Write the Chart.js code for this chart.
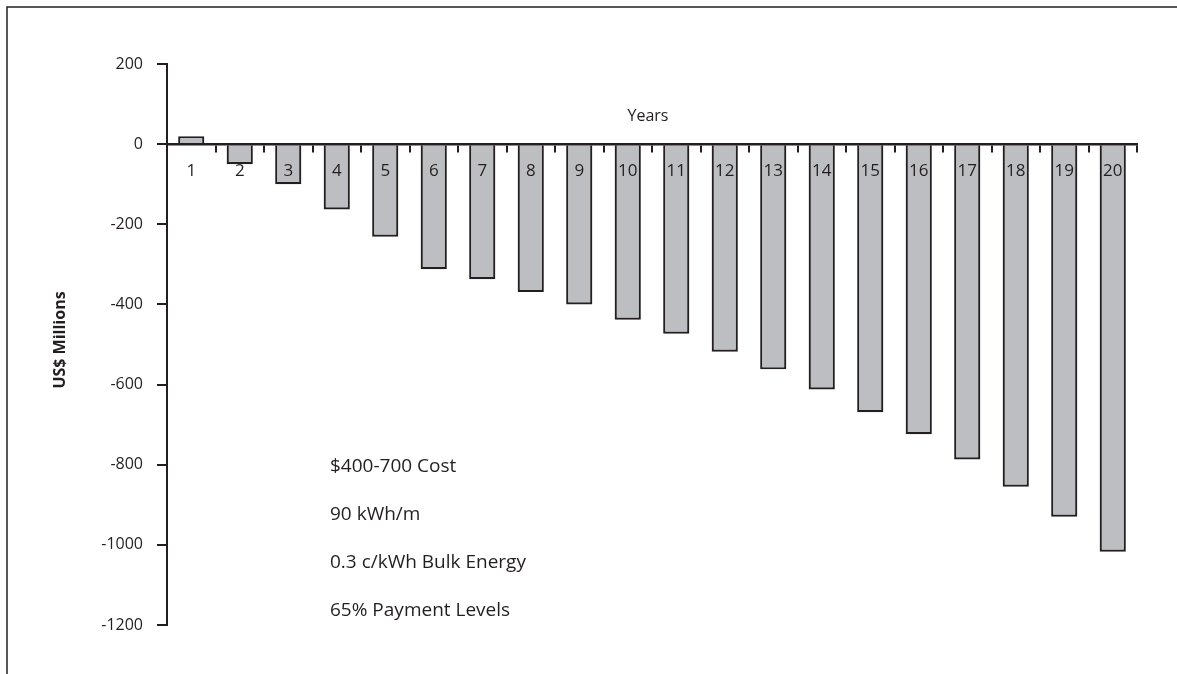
<!DOCTYPE html>
<html>
<head>
<meta charset="utf-8">
<style>
  html, body { margin: 0; padding: 0; background: #ffffff; }
  canvas { display: block; }
</style>
<script src="https://cdn.jsdelivr.net/npm/chart.js@4.4.1/dist/chart.umd.min.js"></script>
</head>
<body>
<canvas id="c" width="1177" height="674"></canvas>
<script>
const years = ['1','2','3','4','5','6','7','8','9','10','11','12','13','14','15','16','17','18','19','20'];
const netValue = [20, -50, -100, -163, -231, -312, -337, -369, -400, -438, -473, -518, -562, -612, -669, -724, -787, -855, -930, -1017];
const yTicks = { min: -1200, max: 200, step: 200 };
const xTitle = 'Years';
const yTitle = 'US$ Millions';
const notes = ['$400-700 Cost', '90 kWh/m', '0.3 c/kWh Bulk Energy', '65% Payment Levels'];

const INK = '#231f20';
const BAR = '#bdbec2';

const decor = {
  id: 'decor',
  beforeDraw(chart) {
    const ctx = chart.ctx;
    ctx.save();
    ctx.strokeStyle = INK;
    ctx.lineWidth = 1.5;
    ctx.beginPath();
    ctx.moveTo(7, 674);
    ctx.lineTo(7, 7);
    ctx.lineTo(1177, 7);
    ctx.stroke();
    ctx.restore();
  },
  afterDraw(chart) {
    const ctx = chart.ctx;
    ctx.save();
    ctx.fillStyle = INK;
    ctx.font = '16px "Open Sans"';
    ctx.textAlign = 'center';
    ctx.textBaseline = 'middle';
    ctx.fillText(xTitle, 648, 116);
    ctx.save();
    ctx.translate(60, 340);
    ctx.rotate(-Math.PI / 2);
    ctx.font = 'bold 16px "Open Sans"';
    ctx.fillText(yTitle, 0, 0);
    ctx.restore();
    ctx.font = '19px "Open Sans"';
    ctx.textAlign = 'left';
    const ys = [467, 515, 563, 611];
    notes.forEach((t, i) => ctx.fillText(t, 330, ys[i]));
    ctx.restore();
  }
};

new Chart(document.getElementById('c'), {
  type: 'bar',
  data: {
    labels: years,
    datasets: [{
      data: netValue,
      backgroundColor: BAR,
      borderColor: INK,
      borderWidth: 2.2,
      borderSkipped: 'start',
      categoryPercentage: 1,
      barPercentage: 0.54
    }]
  },
  options: {
    responsive: false,
    animation: false,
    devicePixelRatio: 1,
    layout: { padding: { left: 0, right: 40, top: 64, bottom: 49 } },
    plugins: { legend: { display: false }, tooltip: { enabled: false } },
    scales: {
      x: {
        position: { y: 0 },
        offset: true,
        grid: { z: 1, offset: true, drawOnChartArea: false, drawTicks: true, tickLength: 7, color: INK, lineWidth: 2 },
        border: { z: 1, display: true, color: INK, width: 2.5 },
        ticks: { z: 2, color: INK, font: { family: 'Open Sans', size: 17 }, padding: 10, maxRotation: 0, autoSkip: false }
      },
      y: {
        min: yTicks.min,
        max: yTicks.max,
        afterFit(s) { s.width = 167; },
        grid: { drawOnChartArea: false, drawTicks: true, tickLength: 10, color: INK, lineWidth: 2 },
        border: { display: true, color: INK, width: 2 },
        ticks: { stepSize: yTicks.step, color: INK, font: { family: 'Open Sans', size: 16 }, padding: 14,
                 callback: v => String(v) }
      }
    }
  },
  plugins: [decor]
});
</script>
</body>
</html>
